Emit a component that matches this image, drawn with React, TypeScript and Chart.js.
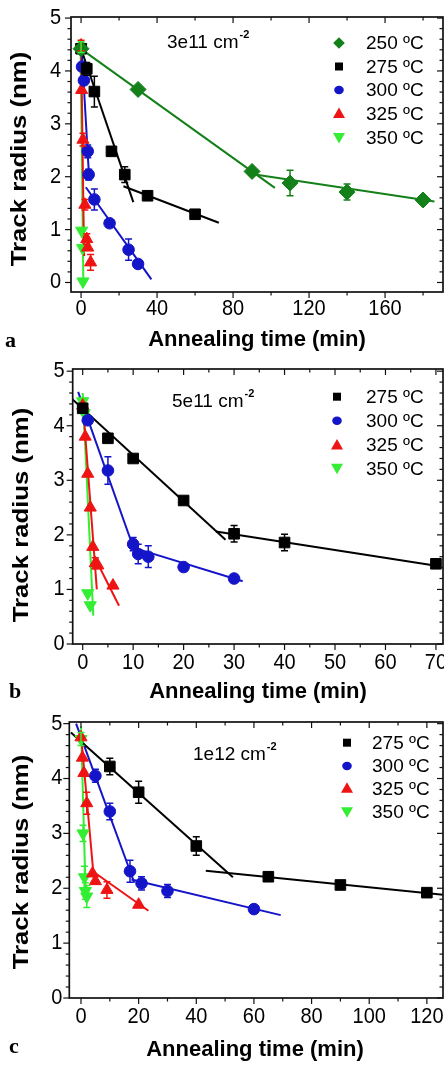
import React, { useEffect, useRef } from "react";
import { Chart, registerables } from "chart.js";

Chart.register(...registerables);

const SANS = "'Liberation Sans', Arial, Helvetica, sans-serif";
const SERIF = "'Liberation Serif', 'Times New Roman', serif";

const DARK_GREEN = "#14801a";
const BLACK = "#000000";
const BLUE = "#1414c8";
const RED = "#ee1414";
const LIGHT_GREEN = "#33ee33";

// ---------- Panel a: 3e11 cm^-2 ----------
const aTime250 = [0, 30, 90, 110, 140, 180];
const aRadius250 = [4.42, 3.65, 2.1, 1.88, 1.71, 1.56];
const aErr250 = [0, 0, 0, 0.24, 0.15, 0];
const aFit250 = [[[-1, 4.44], [102, 1.79]], [[88, 2.06], [186, 1.53]]];

const aTime275 = [0, 3, 7, 16, 23, 35, 60];
const aRadius275 = [4.42, 4.04, 3.61, 2.48, 2.04, 1.64, 1.29];
const aErr275 = [0, 0.12, 0.29, 0, 0.15, 0, 0];
const aFit275 = [[[0, 4.42], [27.5, 1.52]], [[22.3, 1.82], [72.5, 1.13]]];

const aTime300 = [0.5, 1.5, 3.5, 4, 7, 15, 25, 30];
const aRadius300 = [4.08, 3.82, 2.48, 2.04, 1.57, 1.12, 0.62, 0.35];
const aErr300 = [0, 0, 0.12, 0.1, 0.2, 0, 0.2, 0];
const aFit300 = [[[0.2, 4.5], [4.2, 2.0]], [[2.5, 1.8], [37, 0.06]]];

const aTime325 = [0, 0.3, 1, 2, 3, 3.5, 5];
const aRadius325 = [4.48, 3.64, 2.7, 1.47, 0.82, 0.66, 0.38];
const aErr325 = [0.1, 0, 0.12, 0.1, 0.1, 0, 0.15];
const aFit325 = [[[0, 4.55], [1.6, 0.5]]];

const aTime350 = [0, 0.3, 0.8, 1];
const aRadius350 = [4.45, 0.98, 0.65, 0.02];
const aErr350 = [0.1, 0, 0, 0];
const aFit350 = [[[-0.3, 4.6], [1.2, -0.05]]];

// ---------- Panel b: 5e11 cm^-2 ----------
const bTime275 = [0, 5, 10, 20, 30, 40, 70];
const bRadius275 = [4.32, 3.77, 3.4, 2.63, 2.02, 1.86, 1.47];
const bErr275 = [0, 0, 0, 0, 0.15, 0.15, 0];
const bFit275 = [[[-2, 4.48], [28.3, 1.91]], [[26.4, 2.06], [71, 1.42]]];

const bTime300 = [1, 5, 10, 11, 13, 20, 30];
const bRadius300 = [4.1, 3.18, 1.83, 1.65, 1.6, 1.41, 1.2];
const bErr300 = [0, 0.25, 0.12, 0.18, 0.2, 0, 0];
const bFit300 = [[[-0.9, 4.62], [10.3, 1.7]], [[9.5, 1.78], [31.7, 1.15]]];

const bTime325 = [0, 0.5, 1, 1.5, 2, 2.5, 3, 6];
const bRadius325 = [4.37, 3.8, 3.12, 2.5, 1.78, 1.48, 1.44, 1.07];
const bErr325 = [0, 0, 0, 0, 0, 0.1, 0, 0];
const bFit325 = [[[0, 4.45], [2.8, 1.0]], [[2.4, 1.58], [7.2, 0.7]]];

const bTime350 = [0, 0.3, 1, 1.5];
const bRadius350 = [4.45, 4.23, 0.93, 0.71];
const bErr350 = [0, 0, 0, 0];
const bFit350 = [[[0, 4.6], [2.1, 0.52]]];

// ---------- Panel c: 1e12 cm^-2 ----------
const cTime275 = [10, 20, 40, 65, 90, 120];
const cRadius275 = [4.22, 3.75, 2.77, 2.21, 2.06, 1.92];
const cErr275 = [0.15, 0.2, 0.17, 0.08, 0, 0];
const cFit275 = [[[-3.5, 4.84], [52.7, 2.2]], [[43.3, 2.32], [126, 1.88]]];

const cTime300 = [5, 10, 17, 21, 30, 60];
const cRadius300 = [4.05, 3.4, 2.31, 2.09, 1.95, 1.62];
const cErr300 = [0.12, 0.15, 0.2, 0.12, 0.12, 0];
const cFit300 = [[[-1.7, 5.0], [18.5, 2.1]], [[17.5, 2.16], [69.3, 1.51]]];

const cTime325 = [0, 0.5, 1, 2, 4, 5, 9, 20];
const cRadius325 = [4.75, 4.38, 4.1, 3.55, 2.27, 2.13, 1.97, 1.7];
const cErr325 = [0, 0, 0, 0.2, 0, 0, 0.15, 0];
const cFit325 = [[[0, 4.8], [4.6, 2.1]], [[3.8, 2.32], [23.4, 1.59]]];

const cTime350 = [0, 0.7, 1.2, 1.5, 2];
const cRadius350 = [4.72, 3.0, 2.2, 1.95, 1.85];
const cErr350 = [0.12, 0.15, 0.2, 0.15, 0.2];
const cFit350 = [[[0, 4.95], [1.7, 1.75]]];

// ---------- Axis ticks ----------
const aXTicks = [0, 40, 80, 120, 160];
const bXTicks = [0, 10, 20, 30, 40, 50, 60, 70];
const cXTicks = [0, 20, 40, 60, 80, 100, 120];
const yTicks = [0, 1, 2, 3, 4, 5];

type Marker = "diamond" | "square" | "circle" | "triangle" | "down";

interface Series {
  label: string;
  color: string;
  marker: Marker;
  t: number[];
  r: number[];
  err: number[];
  fits: number[][][];
}

const s = (label: string, color: string, marker: Marker, t: number[], r: number[], err: number[], fits: number[][][]): Series =>
  ({ label, color, marker, t, r, err, fits });

interface PanelCfg {
  letter: string;
  fluence: string;
  height: number;
  left: number;
  top: number;
  bottom: number;
  xMin: number;
  xMax: number;
  xTicks: number[];
  xMinor: number;
  yMin: number;
  yMax: number;
  series: Series[];
  legendMarkerX: number;
  legendTextX: number;
  legendRows: number[];
  noteX: number;
  noteY: number;
  xLabelGap: number;
  yLabelGap: number;
  xTitleX: number;
  xTitleY: number;
  yTitleX: number;
  yTitleY: number;
  letterX: number;
  letterY: number;
}

const panels: PanelCfg[] = [
  {
    letter: "a", fluence: "3e11", height: 355, left: 71, top: 17, bottom: 292,
    xMin: -5.3, xMax: 190.5, xTicks: aXTicks, xMinor: 20, yMin: -0.18, yMax: 5.02,
    series: [
      s("250 ºC", DARK_GREEN, "diamond", aTime250, aRadius250, aErr250, aFit250),
      s("275 ºC", BLACK, "square", aTime275, aRadius275, aErr275, aFit275),
      s("300 ºC", BLUE, "circle", aTime300, aRadius300, aErr300, aFit300),
      s("325 ºC", RED, "triangle", aTime325, aRadius325, aErr325, aFit325),
      s("350 ºC", LIGHT_GREEN, "down", aTime350, aRadius350, aErr350, aFit350),
    ],
    legendMarkerX: 339, legendTextX: 366, legendRows: [43, 66.5, 90, 113.5, 137.5],
    noteX: 167, noteY: 43, xLabelGap: 17, yLabelGap: 10,
    xTitleX: 257, xTitleY: 340, yTitleX: 20, yTitleY: 159, letterX: 5, letterY: 347,
  },
  {
    letter: "b", fluence: "5e11", height: 357, left: 72.7, top: 14, bottom: 289,
    xMin: -1.98, xMax: 71.4, xTicks: bXTicks, xMinor: 5, yMin: 0, yMax: 5.04,
    series: [
      s("275 ºC", BLACK, "square", bTime275, bRadius275, bErr275, bFit275),
      s("300 ºC", BLUE, "circle", bTime300, bRadius300, bErr300, bFit300),
      s("325 ºC", RED, "triangle", bTime325, bRadius325, bErr325, bFit325),
      s("350 ºC", LIGHT_GREEN, "down", bTime350, bRadius350, bErr350, bFit350),
    ],
    legendMarkerX: 337, legendTextX: 366, legendRows: [41.7, 65.7, 90, 113.3],
    noteX: 172, noteY: 46.7, xLabelGap: 19, yLabelGap: 8,
    xTitleX: 258, xTitleY: 337, yTitleX: 22, yTitleY: 160, letterX: 9, letterY: 343,
  },
  {
    letter: "c", fluence: "1e12", height: 354, left: 69.3, top: 10, bottom: 286,
    xMin: -4.06, xMax: 125.6, xTicks: cXTicks, xMinor: 10, yMin: 0, yMax: 5.03,
    series: [
      s("275 ºC", BLACK, "square", cTime275, cRadius275, cErr275, cFit275),
      s("300 ºC", BLUE, "circle", cTime300, cRadius300, cErr300, cFit300),
      s("325 ºC", RED, "triangle", cTime325, cRadius325, cErr325, cFit325),
      s("350 ºC", LIGHT_GREEN, "down", cTime350, cRadius350, cErr350, cFit350),
    ],
    legendMarkerX: 347, legendTextX: 372, legendRows: [30.7, 54, 76.3, 99.7],
    noteX: 193, noteY: 43, xLabelGap: 19, yLabelGap: 7,
    xTitleX: 255, xTitleY: 338, yTitleX: 22, yTitleY: 150, letterX: 9, letterY: 341,
  },
];

const pointStyleOf = (m: Marker) =>
  m === "diamond" ? "rectRot" : m === "square" ? "rect" : m === "circle" ? "circle" : "triangle";

const pointRadiusOf = (m: Marker) =>
  m === "diamond" ? 8 : m === "square" ? 7.5 : m === "circle" ? 5.8 : 7;

function drawLegendMarker(ctx: CanvasRenderingContext2D, m: Marker, x: number, y: number, color: string) {
  ctx.save();
  ctx.fillStyle = color;
  ctx.beginPath();
  if (m === "diamond") {
    const r = 5.8;
    ctx.moveTo(x, y - r); ctx.lineTo(x + r, y); ctx.lineTo(x, y + r); ctx.lineTo(x - r, y);
  } else if (m === "square") {
    ctx.rect(x - 4, y - 4, 8, 8);
  } else if (m === "circle") {
    ctx.ellipse(x, y, 4.8, 4.2, 0, 0, Math.PI * 2);
  } else if (m === "triangle") {
    const r = 6;
    ctx.moveTo(x, y - r); ctx.lineTo(x + r, y + r * 0.75); ctx.lineTo(x - r, y + r * 0.75);
  } else {
    const r = 6;
    ctx.moveTo(x, y + r); ctx.lineTo(x + r, y - r * 0.75); ctx.lineTo(x - r, y - r * 0.75);
  }
  ctx.closePath();
  ctx.fill();
  ctx.restore();
}

// Text with a slight vertical stretch, as in the printed figure
function stretchedText(ctx: CanvasRenderingContext2D, text: string, x: number, y: number, sy: number) {
  ctx.save();
  ctx.translate(x, y);
  ctx.scale(1, sy);
  ctx.fillText(text, 0, 0);
  ctx.restore();
}

function Panel({ cfg }: { cfg: PanelCfg }) {
  const ref = useRef<HTMLCanvasElement>(null);

  useEffect(() => {
    const canvas = ref.current;
    if (!canvas) return;

    const datasets: any[] = [];
    cfg.series.forEach((sr) => {
      datasets.push({
        type: "scatter",
        label: sr.label,
        data: sr.t.map((t, j) => ({ x: t, y: sr.r[j] })),
        pointStyle: pointStyleOf(sr.marker),
        rotation: sr.marker === "down" ? 180 : 0,
        pointRadius: pointRadiusOf(sr.marker),
        backgroundColor: sr.color,
        borderColor: sr.color,
        borderWidth: 1,
        showLine: false,
        order: 0,
      });
      sr.fits.forEach((f) => {
        datasets.push({
          type: "line",
          label: sr.label + " fit",
          data: f.map(([x, y]) => ({ x, y })),
          borderColor: sr.color,
          borderWidth: 2,
          pointRadius: 0,
          fill: false,
          tension: 0,
          order: 1,
        });
      });
    });

    const decor = {
      id: "decor",
      afterDatasetsDraw(chart: any) {
        const ctx: CanvasRenderingContext2D = chart.ctx;
        const { left, right, top, bottom } = chart.chartArea;
        const xs = chart.scales.x;
        const ys = chart.scales.y;

        // error bars
        ctx.save();
        ctx.lineWidth = 1.5;
        cfg.series.forEach((sr) => {
          ctx.strokeStyle = sr.color;
          sr.t.forEach((t, j) => {
            const e = sr.err[j];
            if (!e) return;
            const px = xs.getPixelForValue(t);
            const y1 = ys.getPixelForValue(sr.r[j] + e);
            const y2 = ys.getPixelForValue(sr.r[j] - e);
            ctx.beginPath();
            ctx.moveTo(px, y1); ctx.lineTo(px, y2);
            ctx.moveTo(px - 3.5, y1); ctx.lineTo(px + 3.5, y1);
            ctx.moveTo(px - 3.5, y2); ctx.lineTo(px + 3.5, y2);
            ctx.stroke();
          });
        });
        ctx.restore();

        // frame and ticks
        ctx.save();
        ctx.strokeStyle = "#111";
        ctx.lineWidth = 1.7;
        ctx.strokeRect(left, top, right - left, bottom - top);
        ctx.lineWidth = 1.2;
        const seg = (x1: number, y1: number, x2: number, y2: number) => {
          ctx.beginPath(); ctx.moveTo(x1, y1); ctx.lineTo(x2, y2); ctx.stroke();
        };
        const major = 6;
        const minor = 3.5;
        const xMajor = new Set(cfg.xTicks);
        for (let v = Math.ceil(cfg.xMin / cfg.xMinor) * cfg.xMinor; v <= cfg.xMax; v += cfg.xMinor) {
          const px = xs.getPixelForValue(v);
          const len = xMajor.has(v) ? major : minor;
          seg(px, bottom, px, bottom + len);
          seg(px, top, px, top + len);
        }
        for (let i = Math.ceil(cfg.yMin / 0.2); i * 0.2 <= cfg.yMax + 1e-9; i++) {
          const v = i * 0.2;
          const py = ys.getPixelForValue(v);
          const len = i % 5 === 0 ? major : minor;
          seg(left - len, py, left, py);
          seg(right - len, py, right, py);
        }
        ctx.restore();

        // tick labels
        ctx.save();
        ctx.fillStyle = "#000";
        ctx.font = `20px ${SANS}`;
        ctx.textBaseline = "middle";
        ctx.textAlign = "center";
        cfg.xTicks.forEach((v) => {
          stretchedText(ctx, String(v), xs.getPixelForValue(v), bottom + cfg.xLabelGap, 1.08);
        });
        ctx.textAlign = "right";
        yTicks.forEach((v) => {
          stretchedText(ctx, String(v), left - cfg.yLabelGap, ys.getPixelForValue(v), 1.08);
        });
        ctx.restore();

        // legend
        ctx.save();
        ctx.fillStyle = "#000";
        ctx.textBaseline = "middle";
        ctx.textAlign = "left";
        ctx.font = `19px ${SANS}`;
        cfg.series.forEach((sr, i) => {
          const y = cfg.legendRows[i];
          drawLegendMarker(ctx, sr.marker, cfg.legendMarkerX, y, sr.color);
          ctx.fillStyle = "#000";
          ctx.fillText(sr.label, cfg.legendTextX, y + 1);
        });

        // fluence note with superscript
        ctx.font = `19px ${SANS}`;
        const base = `${cfg.fluence} cm`;
        ctx.fillText(base, cfg.noteX, cfg.noteY);
        const w = ctx.measureText(base).width;
        ctx.font = `bold 11px ${SANS}`;
        ctx.fillText("-2", cfg.noteX + w + 1, cfg.noteY - 8);
        ctx.restore();

        // axis titles and panel letter
        ctx.save();
        ctx.fillStyle = "#000";
        ctx.font = `bold 22px ${SANS}`;
        ctx.textAlign = "center";
        ctx.textBaseline = "middle";
        ctx.fillText("Annealing time (min)", cfg.xTitleX, cfg.xTitleY);
        ctx.translate(cfg.yTitleX, cfg.yTitleY);
        ctx.rotate(-Math.PI / 2);
        ctx.scale(1.17, 1);
        ctx.fillText("Track radius (nm)", 0, 0);
        ctx.restore();

        ctx.save();
        ctx.fillStyle = "#000";
        ctx.font = `bold 22px ${SERIF}`;
        ctx.textAlign = "left";
        ctx.textBaseline = "alphabetic";
        ctx.fillText(cfg.letter, cfg.letterX, cfg.letterY);
        ctx.restore();
      },
    };

    const chart = new Chart(canvas, {
      type: "scatter",
      data: { datasets },
      options: {
        animation: false,
        responsive: false,
        maintainAspectRatio: false,
        layout: { autoPadding: false, padding: { top: cfg.top, right: 1, left: 0, bottom: 0 } },
        plugins: { legend: { display: false }, tooltip: { enabled: false } },
        scales: {
          x: {
            type: "linear",
            min: cfg.xMin,
            max: cfg.xMax,
            grid: { display: false },
            border: { display: false },
            ticks: { display: false },
            afterBuildTicks: (sc: any) => { sc.ticks = cfg.xTicks.map((v) => ({ value: v })); },
            afterFit: (sc: any) => { sc.height = cfg.height - cfg.bottom; },
          },
          y: {
            type: "linear",
            min: cfg.yMin,
            max: cfg.yMax,
            grid: { display: false },
            border: { display: false },
            ticks: { display: false },
            afterBuildTicks: (sc: any) => { sc.ticks = yTicks.map((v) => ({ value: v })); },
            afterFit: (sc: any) => { sc.width = cfg.left; },
          },
        },
      } as any,
      plugins: [decor],
    });

    return () => chart.destroy();
  }, [cfg]);

  return <canvas ref={ref} width={444} height={cfg.height} style={{ display: "block" }} />;
}

export default function App() {
  return (
    <div style={{ position: "absolute", left: 0, top: 0, width: 444, background: "#fff" }}>
      {panels.map((p) => (
        <Panel key={p.letter} cfg={p} />
      ))}
    </div>
  );
}
